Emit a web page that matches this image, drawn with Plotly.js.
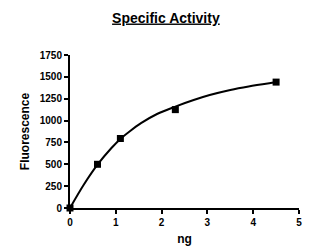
<!DOCTYPE html>
<html>
<head>
<meta charset="utf-8">
<script src="https://cdn.plot.ly/plotly-3.0.1.min.js"></script>
<style>
  html, body { margin: 0; padding: 0; background: #fff; }
  #chart { width: 316px; height: 252px; }
</style>
</head>
<body>
<div id="chart"></div>
<script>
// Measured amounts (ng) and fluorescence readings
const ng = [0, 0.6, 1.1, 2.3, 4.5];
const fluorescence = [0, 500, 795, 1125, 1440];

// Saturation fit curve through the readings
const fitNg = [0, 0.3, 0.6, 0.9, 1.1, 1.3, 1.55, 1.9, 2.3, 2.7, 3.05, 3.5, 3.9, 4.35, 4.5];
const fitFluorescence = [0, 265, 495, 683, 790, 875, 970, 1075, 1160, 1235, 1292, 1350, 1390, 1427, 1438];

// Axis ticks
const xTicks = [0, 1, 2, 3, 4, 5];
const yTicks = [0, 250, 500, 750, 1000, 1250, 1500, 1750];

const FONT = 'Arial, "Liberation Sans", sans-serif';

const traces = [
  {
    x: fitNg, y: fitFluorescence,
    type: 'scatter', mode: 'lines',
    line: { color: '#000', width: 2, shape: 'spline', smoothing: 0.8 },
    hoverinfo: 'skip', cliponaxis: false
  },
  {
    x: ng, y: fluorescence,
    type: 'scatter', mode: 'markers',
    marker: { symbol: 'square', size: 7, color: '#000' },
    cliponaxis: false
  }
];

const axisCommon = {
  showgrid: false, zeroline: false,
  showline: true, linecolor: '#000', linewidth: 2,
  ticks: 'outside', ticklen: 4, tickwidth: 2, tickcolor: '#000',
  tickfont: { family: FONT, size: 10, color: '#000', weight: 'bold' },
  fixedrange: true
};

const layout = {
  width: 316, height: 252,
  margin: { l: 70, r: 17, t: 55, b: 44 },
  paper_bgcolor: '#fff', plot_bgcolor: '#fff',
  showlegend: false,
  title: {
    text: '<b><u>Specific Activity</u></b>',
    font: { family: FONT, size: 14, color: '#000' },
    xref: 'container', x: 0.525, xanchor: 'center',
    yref: 'container', y: 0.93, yanchor: 'middle'
  },
  xaxis: Object.assign({}, axisCommon, {
    range: [0, 5], tickvals: xTicks,
    title: { text: '<b>ng</b>', font: { family: FONT, size: 12, color: '#000' }, standoff: 8 }
  }),
  yaxis: Object.assign({}, axisCommon, {
    range: [0, 1750], tickvals: yTicks,
    title: { text: '<b>Fluorescence</b>', font: { family: FONT, size: 12, color: '#000' }, standoff: 8 }
  })
};

Plotly.newPlot('chart', traces, layout, { displayModeBar: false, staticPlot: true });
</script>
</body>
</html>
